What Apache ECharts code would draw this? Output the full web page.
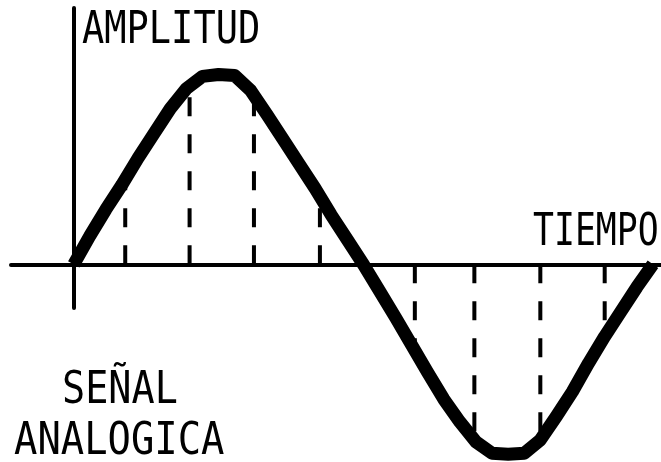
<!DOCTYPE html>
<html>
<head>
<meta charset="utf-8">
<script src="https://cdn.jsdelivr.net/npm/echarts@6/dist/echarts.min.js"></script>
<style>
  html, body { margin: 0; padding: 0; background: #fff; }
  #container { width: 661px; height: 462px; }
</style>
</head>
<body>
<div id="container"></div>
<script>
var dom = document.getElementById("container");
var myChart = echarts.init(dom);

// tiempo (grados) y amplitud
var tiempo = [0, 10, 20, 30, 40, 50, 60, 70, 80, 90, 100, 110, 120, 130, 140, 150, 160, 170, 180,
              190, 200, 210, 220, 230, 240, 250, 260, 270, 280, 290, 300, 310, 320, 330, 340, 350, 360];
var amplitud = [0, 0.15, 0.29, 0.42, 0.56, 0.69, 0.82, 0.925, 0.99, 1.0, 0.995, 0.915, 0.79, 0.66, 0.53, 0.40, 0.26, 0.13, 0,
                -0.14, -0.28, -0.425, -0.57, -0.71, -0.83, -0.935, -0.995, -1.0, -0.995, -0.925, -0.80, -0.67, -0.52, -0.38, -0.25, -0.12, 0];

// muestras (lineas discontinuas)
var muestrasT = [32, 72, 112, 153, 212, 249, 290, 330];
var muestrasV = [0.45, 0.93, 0.89, 0.36, -0.45, -0.93, -0.93, -0.37];

var labelFont = '37px "DejaVu Sans Mono"';

function texto(str, x, y, sx) {
    return {
        type: 'text',
        x: x,
        y: y,
        scaleX: sx,
        scaleY: 1.18,
        style: {
            text: str,
            font: labelFont,
            fill: '#000',
            textAlign: 'left',
            textVerticalAlign: 'middle',
            align: 'left',
            verticalAlign: 'middle'
        }
    };
}

option = {
    animation: false,
    backgroundColor: '#fff',
    grid: { left: 11, right: 0, top: 8, bottom: 154 },
    xAxis: {
        type: 'value',
        min: -39,
        max: 365,
        axisLine: { onZero: true, lineStyle: { color: '#000', width: 4 } },
        axisTick: { show: false },
        axisLabel: { show: false },
        splitLine: { show: false }
    },
    yAxis: {
        type: 'value',
        min: -0.23,
        max: 1.35,
        axisLine: { show: true, onZero: true, lineStyle: { color: '#000', width: 4 } },
        axisTick: { show: false },
        axisLabel: { show: false },
        splitLine: { show: false }
    },
    graphic: [
        texto('AMPLITUD', 82, 32, 1.0),
        texto('TIEMPO', 533, 234, 0.94),
        texto('SEÑAL', 62, 392, 1.04),
        texto('ANALOGICA', 14, 443, 1.05)
    ],
    series: [
        {
            type: 'custom',
            clip: false,
            z: 1,
            data: muestrasT.map(function (t, i) { return [t, muestrasV[i]]; }),
            renderItem: function (params, api) {
                var p0 = api.coord([api.value(0), 0]);
                var p1 = api.coord([api.value(0), api.value(1)]);
                return {
                    type: 'line',
                    shape: { x1: p0[0], y1: p0[1], x2: p1[0], y2: p1[1] },
                    style: { stroke: '#000', lineWidth: 4, lineDash: [19, 18] }
                };
            }
        },
        {
            type: 'line',
            clip: false,
            z: 3,
            smooth: false,
            showSymbol: false,
            symbol: 'none',
            lineStyle: { color: '#000', width: 13, join: 'round' },
            data: tiempo.map(function (t, i) { return [t, amplitud[i]]; })
        }
    ]
};

if (option && typeof option === "object") {
    myChart.setOption(option, false);
}
</script>
</body>
</html>
